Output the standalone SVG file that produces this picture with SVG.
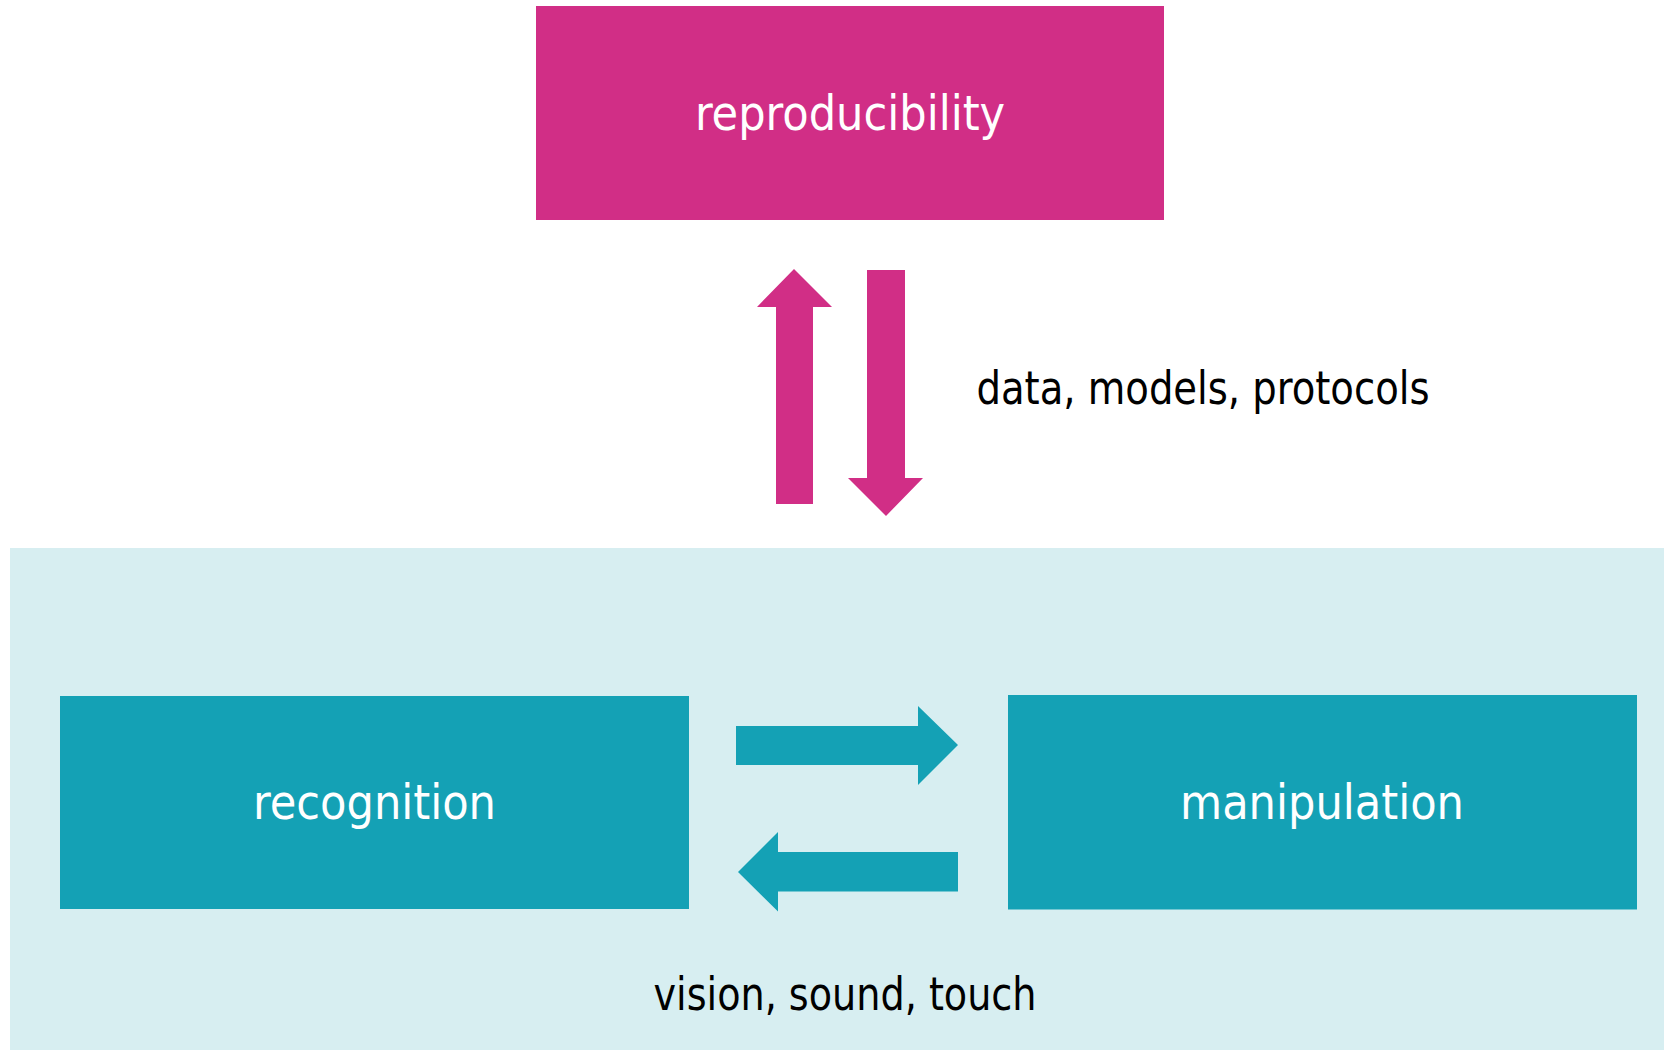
<svg xmlns="http://www.w3.org/2000/svg" width="1664" height="1050" viewBox="0 0 1664 1050">
  <style>
    .pink { fill: #D12E86; }
    .teal { fill: #14A1B5; }
    .region { fill: #D7EEF1; }
    .label { font-family: "DejaVu Sans Condensed", "DejaVu Sans", sans-serif; font-stretch: condensed; font-size: 48px; }
    .small { font-size: 46px; }
    .white { fill: #FFFFFF; }
    .black { fill: #000000; }
  </style>
  <rect width="1664" height="1050" fill="#FFFFFF"/>
  <g id="region-physical">
    <rect class="region" x="10" y="548" width="1654" height="502"/>
  </g>
  <g id="node-reproducibility">
    <rect class="pink" x="536" y="6" width="628" height="214"/>
    <text class="label white" x="850" y="129.5" text-anchor="middle">reproducibility</text>
  </g>
  <g id="node-recognition">
    <rect class="teal" x="60" y="696" width="629" height="213"/>
    <text class="label white" x="374.5" y="819" text-anchor="middle">recognition</text>
  </g>
  <g id="node-manipulation">
    <rect class="teal" x="1008" y="695" width="629" height="214.5"/>
    <text class="label white" x="1322" y="819" text-anchor="middle">manipulation</text>
  </g>
  <g id="connectors">
    <polygon class="pink" points="794,269 832,307 813,307 813,504 776,504 776,307 757,307"/>
    <polygon class="pink" points="867,270 905,270 905,478 923,478 886,516 848,478 867,478"/>
    <polygon class="teal" points="736,726 918,726 918,706 958,745 918,785 918,765 736,765"/>
    <polygon class="teal" points="958,852 958,891.5 778,891.5 778,911.5 738,872 778,832 778,852"/>
  </g>
  <g id="labels">
    <text class="label small black" x="976.5" y="403.5" textLength="453" lengthAdjust="spacingAndGlyphs">data, models, protocols</text>
    <text class="label small black" x="653.5" y="1010" textLength="383" lengthAdjust="spacingAndGlyphs">vision, sound, touch</text>
  </g>
</svg>
